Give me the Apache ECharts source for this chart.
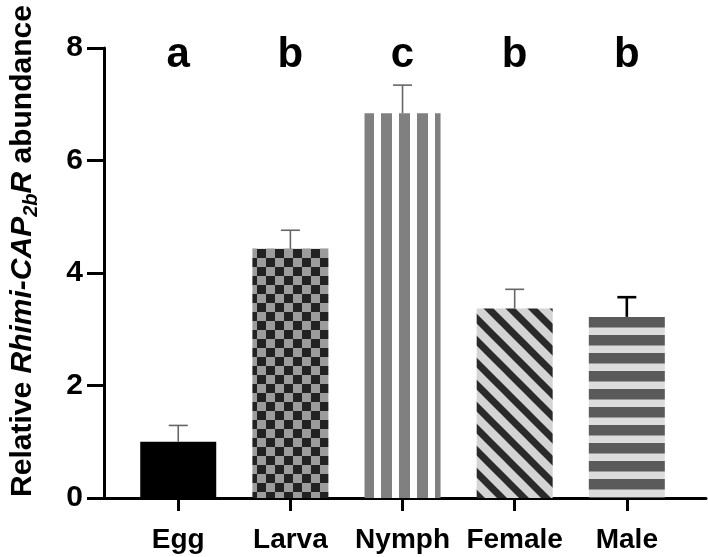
<!DOCTYPE html>
<html>
<head>
<meta charset="utf-8">
<script src="https://cdn.jsdelivr.net/npm/echarts@6/dist/echarts.min.js"></script>
<style>
html,body{margin:0;padding:0;background:#fff;}
#chart{width:708px;height:557px;}
</style>
</head>
<body>
<div id="chart"></div>
<script>
// ---- data ----
const categories = ['Egg', 'Larva', 'Nymph', 'Female', 'Male'];
const means = [1.00, 4.43, 6.84, 3.37, 3.22];
const sems = [0.29, 0.33, 0.50, 0.34, 0.35];
const sigLetters = ['a', 'b', 'c', 'b', 'b'];
const yTicks = [0, 2, 4, 6, 8];

// ---- styles ----
const FONT = '"Liberation Sans", Arial, sans-serif';
const errColors = ['#666666', '#666666', '#666666', '#666666', '#000000'];
const errWidths = [1.6, 1.6, 1.6, 1.6, 2.6];

function mk(w, h, draw) {
  const c = document.createElement('canvas');
  c.width = w; c.height = h;
  const ctx = c.getContext('2d');
  draw(ctx, w, h);
  return c;
}
const patterns = [
  '#000000',
  { image: mk(18, 18, (ctx) => {
      ctx.fillStyle = '#9c9c9c'; ctx.fillRect(0, 0, 18, 18);
      ctx.fillStyle = '#222222';
      const ox = 14, oy = 15;
      for (let i = -2; i <= 2; i++) for (let j = -2; j <= 2; j++) {
        if ((i + j) % 2 !== 0) ctx.fillRect(ox + i * 9, oy + j * 9, 9, 9);
      }
    }), repeat: 'repeat' },
  { image: mk(18, 4, (ctx) => {
      ctx.fillStyle = '#ffffff'; ctx.fillRect(0, 0, 18, 4);
      ctx.fillStyle = '#808080'; ctx.fillRect(3, 0, 11, 4);
    }), repeat: 'repeat' },
  { image: mk(22, 22, (ctx) => {
      ctx.fillStyle = '#d4d4d4'; ctx.fillRect(0, 0, 22, 22);
      ctx.strokeStyle = '#2a2a2a'; ctx.lineWidth = 7;
      for (let k = -3; k <= 3; k++) {
        const c = 18 + 22 * k;
        ctx.beginPath(); ctx.moveTo(-10, -10 + c); ctx.lineTo(32, 32 + c); ctx.stroke();
      }
    }), repeat: 'repeat' },
  { image: mk(4, 18, (ctx) => {
      ctx.fillStyle = '#dcdcdc'; ctx.fillRect(0, 0, 4, 18);
      ctx.fillStyle = '#5a5a5a'; ctx.fillRect(0, 11, 4, 10.5); ctx.fillRect(0, -7, 4, 10.5);
    }), repeat: 'repeat' }
];

const idx = categories.map((_, i) => i);
const chart = echarts.init(document.getElementById('chart'), null, { renderer: 'canvas' });

chart.setOption({
  animation: false,
  backgroundColor: '#ffffff',
  grid: { left: 97, right: 2, top: 48, bottom: 59 },
  xAxis: {
    type: 'value',
    min: -0.662,
    max: 4.706,
    splitLine: { show: false },
    axisLine: { show: true, onZero: false, lineStyle: { color: '#000', width: 3 } },
    axisTick: { show: true, customValues: idx, length: 13, lineStyle: { color: '#000', width: 3 } },
    axisLabel: {
      show: true, customValues: idx, margin: 28,
      formatter: (v) => categories[Math.round(v)],
      color: '#000', fontSize: 28, fontWeight: 'bold', fontFamily: FONT
    }
  },
  yAxis: {
    type: 'value',
    min: yTicks[0],
    max: yTicks[yTicks.length - 1],
    interval: 2,
    splitLine: { show: false },
    axisLine: { show: true, onZero: false, lineStyle: { color: '#000', width: 3 } },
    axisTick: { show: true, length: 17, lineStyle: { color: '#000', width: 3 } },
    axisLabel: { margin: 21, color: '#000', fontSize: 30, fontWeight: 'bold', fontFamily: FONT },
    name: '{a|Relative }{i|Rhimi-CAP}{s|2b}{i|R}{a| abundance}',
    nameLocation: 'middle',
    nameRotate: 90,
    nameGap: 63,
    nameTextStyle: {
      padding: [0, 0, 0, 44],
      rich: {
        a: { fontSize: 30, fontWeight: 'bold', fontFamily: FONT, color: '#000', lineHeight: 36 },
        i: { fontSize: 30, fontWeight: 'bold', fontStyle: 'italic', fontFamily: FONT, color: '#000', lineHeight: 36 },
        s: { fontSize: 20, fontWeight: 'bold', fontStyle: 'italic', fontFamily: FONT, color: '#000', lineHeight: 20, verticalAlign: 'bottom' }
      }
    }
  },
  series: [
    {
      type: 'bar',
      barWidth: 76,
      data: means.map((v, i) => ({ value: [i, v], itemStyle: { color: patterns[i] } })),
      z: 2
    },
    {
      type: 'custom',
      data: means.map((v, i) => [i, v, sems[i]]),
      encode: { x: 0, y: 1 },
      z: 3,
      renderItem: (params, api) => {
        const i = params.dataIndex;
        const x = api.value(0), y = api.value(1), e = api.value(2);
        const p0 = api.coord([x, y]);
        const p1 = api.coord([x, y + e]);
        const hw = 9.5;
        const st = { stroke: errColors[i], lineWidth: errWidths[i] };
        return {
          type: 'group',
          children: [
            { type: 'line', shape: { x1: p0[0], y1: p0[1], x2: p1[0], y2: p1[1] }, style: st },
            { type: 'line', shape: { x1: p1[0] - hw, y1: p1[1], x2: p1[0] + hw, y2: p1[1] }, style: st }
          ]
        };
      }
    },
    {
      type: 'custom',
      data: sigLetters.map((t, i) => [i, 7.86]),
      encode: { x: 0, y: 1 },
      z: 4,
      renderItem: (params, api) => {
        const p = api.coord([api.value(0), api.value(1)]);
        return {
          type: 'text',
          style: {
            x: p[0], y: p[1], text: sigLetters[params.dataIndex],
            fill: '#000', fontSize: 42, fontWeight: 'bold', fontFamily: FONT,
            align: 'center', verticalAlign: 'middle'
          }
        };
      }
    }
  ]
});
</script>
</body>
</html>
